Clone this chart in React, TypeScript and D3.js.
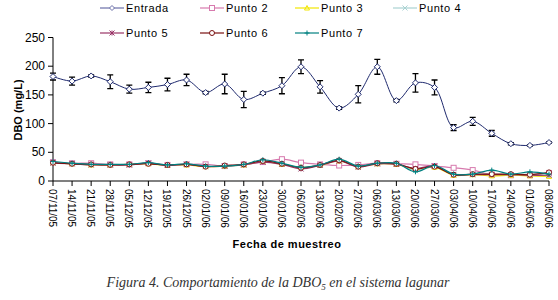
import React from "react";
import * as d3 from "d3";

const dates = ["07/11/05","14/11/05","21/11/05","28/11/05","05/12/05","12/12/05","19/12/05","26/12/05","02/01/06","09/01/06","16/01/06","23/01/06","30/01/06","06/02/06","13/02/06","20/02/06","27/02/06","06/03/06","13/03/06","20/03/06","27/03/06","03/04/06","10/04/06","17/04/06","24/04/06","01/05/06","08/05/06"];

const entrada = [182,174,183,173,160,163,168,176,154,169,142,153,166,199,164,127,151,199,140,171,163,93,104,83,65,62,67];
const entradaErr = [6,7,2,12,7,9,11,10,2,17,14,2,14,12,11,2,15,13,2,16,13,5,7,5,2,1,1];
const punto2 = [33,31,31,29,29,31,28,29,29,26,29,33,38,32,29,27,28,31,30,29,26,23,19,11,10,10,14];
const punto3 = [32,30,28,28,29,30,27,28,25,26,28,34,29,24,27,35,25,30,29,20,24,10,11,9,10,9,8];
const punto4 = [33,31,29,28,28,31,27,29,26,26,28,35,30,23,27,36,26,30,30,18,25,12,12,12,11,12,12];
const punto5 = [31,30,28,28,28,31,27,29,25,26,28,33,29,21,27,35,24,30,29,22,26,11,11,11,11,10,10];
const punto6 = [32,30,29,28,29,30,28,29,25,27,29,35,30,23,28,36,25,31,30,21,25,11,12,12,12,11,15];
const punto7 = [34,31,29,29,29,32,28,30,26,26,29,37,31,24,28,38,26,31,31,16,27,12,12,19,12,16,12];
const yTicks = [0,50,100,150,200,250];

type Marker = "diamond"|"square"|"triangle"|"x"|"star"|"circle"|"plus";
const series: {name:string; values:number[]; color:string; marker:Marker}[] = [
  {name:"Punto 2", values:punto2, color:"#d77aae", marker:"square"},
  {name:"Punto 3", values:punto3, color:"#f2e600", marker:"triangle"},
  {name:"Punto 4", values:punto4, color:"#a9d2d2", marker:"x"},
  {name:"Punto 5", values:punto5, color:"#993366", marker:"star"},
  {name:"Punto 6", values:punto6, color:"#7a1010", marker:"circle"},
  {name:"Punto 7", values:punto7, color:"#008080", marker:"plus"},
];

const font = "'Liberation Sans', Arial, sans-serif";

function MarkerShape({type, x, y, color, s=3}:{type:Marker;x:number;y:number;color:string;s?:number}) {
  switch(type){
    case "diamond": return <path d={`M${x},${y-s}L${x+s},${y}L${x},${y+s}L${x-s},${y}Z`} fill="white" stroke={color} strokeWidth={1}/>;
    case "square": return <rect x={x-s} y={y-s} width={2*s} height={2*s} fill="white" stroke={color} strokeWidth={1}/>;
    case "triangle": return <path d={`M${x},${y-s}L${x+s},${y+s*0.8}L${x-s},${y+s*0.8}Z`} fill="none" stroke={color} strokeWidth={1}/>;
    case "x": return <path d={`M${x-s},${y-s}L${x+s},${y+s}M${x-s},${y+s}L${x+s},${y-s}`} stroke={color} strokeWidth={1}/>;
    case "star": return <path d={`M${x-s},${y-s}L${x+s},${y+s}M${x-s},${y+s}L${x+s},${y-s}M${x},${y-s}L${x},${y+s}`} stroke={color} strokeWidth={1}/>;
    case "circle": return <circle cx={x} cy={y} r={s} fill="white" stroke={color} strokeWidth={1}/>;
    case "plus": return <path d={`M${x-s},${y}L${x+s},${y}M${x},${y-s}L${x},${y+s}`} stroke={color} strokeWidth={1}/>;
  }
}

export default function App() {
  const x0 = 53, x1 = 549;
  const x = d3.scalePoint<string>().domain(dates).range([x0, x1]);
  const y = d3.scaleLinear().domain([0, 250]).range([181, 37.5]);
  const line = d3.line<number>().x((_, i) => x(dates[i])!).y(d => y(d)).curve(d3.curveCatmullRom.alpha(0.5));
  const entColor = "#1f2a6e";

  const legend = [
    {name:"Entrada", color:"#6b6fa8", marker:"diamond" as Marker, lx:100, ly:8},
    {name:"Punto 2", color:"#d77aae", marker:"square" as Marker, lx:200, ly:8},
    {name:"Punto 3", color:"#f2e600", marker:"triangle" as Marker, lx:295, ly:8},
    {name:"Punto 4", color:"#a9d2d2", marker:"x" as Marker, lx:393, ly:8},
    {name:"Punto 5", color:"#993366", marker:"star" as Marker, lx:100, ly:33},
    {name:"Punto 6", color:"#7a1010", marker:"circle" as Marker, lx:200, ly:33},
    {name:"Punto 7", color:"#008080", marker:"plus" as Marker, lx:295, ly:33},
  ];

  return (
    <svg width={558} height={300} style={{position:"absolute", left:0, top:0, background:"white"}}>
      {/* legend */}
      {legend.map(l => (
        <g key={l.name}>
          <line x1={l.lx} x2={l.lx+24} y1={l.ly} y2={l.ly} stroke={l.color} strokeWidth={1.2}/>
          <MarkerShape type={l.marker} x={l.lx+12} y={l.ly} color={l.color} s={2.5}/>
          <text x={l.lx+26} y={l.ly+4} fontFamily={font} fontSize={11} letterSpacing={0.6} fill="#000">{l.name}</text>
        </g>
      ))}
      {/* axes */}
      <line x1={x0} x2={x0} y1={y(250)} y2={y(0)} stroke="#000" strokeWidth={1}/>
      <line x1={x0} x2={x1} y1={y(0)} y2={y(0)} stroke="#000" strokeWidth={1}/>
      {yTicks.map(t => (
        <g key={t}>
          <line x1={x0-5} x2={x0} y1={y(t)} y2={y(t)} stroke="#000"/>
          <text x={x0-8} y={y(t)+4} textAnchor="end" fontFamily={font} fontSize={12}>{t}</text>
        </g>
      ))}
      {dates.map(d => (
        <g key={d}>
          <line x1={x(d)} x2={x(d)} y1={y(0)} y2={y(0)+5} stroke="#000"/>
          <text transform={`translate(${x(d)! - 4},${y(0)+8}) rotate(90)`} fontFamily={font} fontSize={10} textAnchor="start">{d}</text>
        </g>
      ))}
      <text transform={`translate(22,110) rotate(-90)`} textAnchor="middle" fontFamily={font} fontSize={11} fontWeight="bold">DBO (mg/L)</text>
      <text x={287} y={248} textAnchor="middle" fontFamily={font} fontSize={11} fontWeight="bold" letterSpacing={0.5}>Fecha de muestreo</text>
      <text x={278} y={287} textAnchor="middle" fontFamily="'Liberation Serif', serif" fontStyle="italic" fontSize={14} fill="#333">
        Figura 4. Comportamiento de la DBO<tspan fontSize={9} dy={3}>5</tspan><tspan dy={-3}> en el sistema lagunar</tspan>
      </text>
      {/* small series */}
      {series.map(s => (
        <g key={s.name}>
          <path d={line(s.values)!} fill="none" stroke={s.color} strokeWidth={1.2}/>
          {s.values.map((v, i) => <MarkerShape key={i} type={s.marker} x={x(dates[i])!} y={y(v)} color={s.color} s={2.5}/>)}
        </g>
      ))}
      {/* entrada */}
      <path d={line(entrada)!} fill="none" stroke={entColor} strokeWidth={1}/>
      {entrada.map((v, i) => {
        const cx = x(dates[i])!; const e = entradaErr[i];
        return (
          <g key={i}>
            <path d={`M${cx},${y(v+e)}V${y(v-e)}M${cx-3},${y(v+e)}H${cx+3}M${cx-3},${y(v-e)}H${cx+3}`} stroke="#000" strokeWidth={1.3} fill="none"/>
            <MarkerShape type="diamond" x={cx} y={y(v)} color={entColor} s={3}/>
          </g>
        );
      })}
    </svg>
  );
}
